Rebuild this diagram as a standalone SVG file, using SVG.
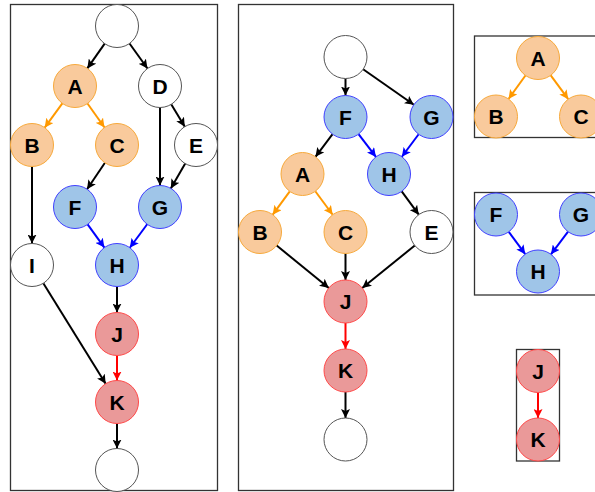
<svg xmlns="http://www.w3.org/2000/svg" width="595" height="492" viewBox="0 0 595 492">
<style>
.frame{fill:none;stroke:#333;stroke-width:1.3}
circle{stroke-width:1}
.w{fill:#fff;stroke:#555}
.o{fill:#f9ca9c;stroke:#f7a93b}
.b{fill:#9fc5e8;stroke:#4040ff}
.r{fill:#ea9999;stroke:#ff4848}
text{font-family:"Liberation Sans",Arial,sans-serif;font-weight:bold;font-size:21px;fill:#000;text-anchor:middle;dominant-baseline:central}
.e{fill:none;stroke-width:2}
.k{stroke:#000;marker-end:url(#mk)}
.eo{stroke:#ff9900;marker-end:url(#mo)}
.eb{stroke:#0000ff;marker-end:url(#mb)}
.er{stroke:#ff0000;marker-end:url(#mr)}
</style>
<defs>
<marker id="mk" markerUnits="userSpaceOnUse" markerWidth="10" markerHeight="9" refX="9" refY="4.5" orient="auto" viewBox="0 0 10 9"><path d="M0,0 L9,4.5 L0,9 L2,4.5 z" fill="#000"/></marker>
<marker id="mo" markerUnits="userSpaceOnUse" markerWidth="10" markerHeight="9" refX="9" refY="4.5" orient="auto" viewBox="0 0 10 9"><path d="M0,0 L9,4.5 L0,9 L2,4.5 z" fill="#ff9900"/></marker>
<marker id="mb" markerUnits="userSpaceOnUse" markerWidth="10" markerHeight="9" refX="9" refY="4.5" orient="auto" viewBox="0 0 10 9"><path d="M0,0 L9,4.5 L0,9 L2,4.5 z" fill="#0000ff"/></marker>
<marker id="mr" markerUnits="userSpaceOnUse" markerWidth="10" markerHeight="9" refX="9" refY="4.5" orient="auto" viewBox="0 0 10 9"><path d="M0,0 L9,4.5 L0,9 L2,4.5 z" fill="#ff0000"/></marker>
</defs>
<rect width="595" height="492" fill="#fff"/>
<g id="frames">
<rect class="frame" x="10.5" y="4.5" width="207" height="486"/>
<rect class="frame" x="238.5" y="4.5" width="215" height="486"/>
<rect class="frame" x="474.5" y="36" width="130" height="101.5"/>
<rect class="frame" x="474.5" y="192.5" width="130" height="102.5"/>
<rect class="frame" x="516.5" y="349.5" width="43" height="111.5"/>
</g>
<g id="connectors">
<line class="e k" x1="104.67" y1="43.61" x2="87.33" y2="68.39"/>
<line class="e k" x1="129.52" y1="43.48" x2="147.48" y2="68.52"/>
<line class="e eo" x1="62.34" y1="103.37" x2="44.66" y2="127.63"/>
<line class="e eo" x1="87.47" y1="103.52" x2="104.53" y2="127.48"/>
<line class="e k" x1="160" y1="107.5" x2="160" y2="185.5"/>
<line class="e k" x1="171.2" y1="104.35" x2="184.8" y2="126.65"/>
<line class="e k" x1="32" y1="166.5" x2="32" y2="243.5"/>
<line class="e k" x1="104.94" y1="162.8" x2="87.06" y2="189.2"/>
<line class="e k" x1="185.2" y1="163.59" x2="170.8" y2="188.41"/>
<line class="e eb" x1="87.61" y1="224.41" x2="104.39" y2="247.59"/>
<line class="e eb" x1="147.2" y1="224.27" x2="129.8" y2="247.73"/>
<line class="e k" x1="117" y1="286.5" x2="117" y2="312.5"/>
<line class="e k" x1="43.33" y1="283.27" x2="105.67" y2="383.73"/>
<line class="e er" x1="117" y1="355.5" x2="117" y2="380.5"/>
<line class="e k" x1="117" y1="423.5" x2="117" y2="448.5"/>

<line class="e k" x1="345.5" y1="78.5" x2="345.5" y2="95.5"/>
<line class="e k" x1="363.13" y1="69.3" x2="413.87" y2="104.7"/>
<line class="e k" x1="332.55" y1="134.16" x2="315.45" y2="156.84"/>
<line class="e eb" x1="358.54" y1="134.09" x2="375.96" y2="156.91"/>
<line class="e eb" x1="418.65" y1="134.24" x2="401.85" y2="156.76"/>
<line class="e eo" x1="289.79" y1="191.34" x2="272.71" y2="214.66"/>
<line class="e eo" x1="315.3" y1="191.27" x2="332.7" y2="214.73"/>
<line class="e k" x1="401.71" y1="191.34" x2="418.79" y2="214.66"/>
<line class="e k" x1="276.68" y1="245.56" x2="328.82" y2="287.94"/>
<line class="e k" x1="345.5" y1="253.5" x2="345.5" y2="280"/>
<line class="e k" x1="414.78" y1="245.51" x2="362.22" y2="287.99"/>
<line class="e er" x1="345.5" y1="323" x2="345.5" y2="349"/>
<line class="e k" x1="345.5" y1="392" x2="345.5" y2="418"/>

<line class="e eo" x1="525.46" y1="75.46" x2="508.54" y2="99.04"/>
<line class="e eo" x1="550.73" y1="75.32" x2="568.27" y2="99.18"/>
<line class="e eb" x1="508.75" y1="231.81" x2="525.25" y2="254.19"/>
<line class="e eb" x1="568.05" y1="231.66" x2="550.95" y2="254.34"/>
<line class="e er" x1="538" y1="392.5" x2="538" y2="418"/>
</g>
<g id="p1-start"><circle class="w" cx="117" cy="26" r="21.5"/></g>
<g id="p1-A"><circle class="o" cx="75" cy="86" r="21.5"/><text x="75" y="86">A</text></g>
<g id="p1-D"><circle class="w" cx="160" cy="86" r="21.5"/><text x="160" y="86">D</text></g>
<g id="p1-B"><circle class="o" cx="32" cy="145" r="21.5"/><text x="32" y="145">B</text></g>
<g id="p1-C"><circle class="o" cx="117" cy="145" r="21.5"/><text x="117" y="145">C</text></g>
<g id="p1-E"><circle class="w" cx="196" cy="145" r="21.5"/><text x="196" y="145">E</text></g>
<g id="p1-F"><circle class="b" cx="75" cy="207" r="21.5"/><text x="75" y="207">F</text></g>
<g id="p1-G"><circle class="b" cx="160" cy="207" r="21.5"/><text x="160" y="207">G</text></g>
<g id="p1-I"><circle class="w" cx="32" cy="265" r="21.5"/><text x="32" y="265">I</text></g>
<g id="p1-H"><circle class="b" cx="117" cy="265" r="21.5"/><text x="117" y="265">H</text></g>
<g id="p1-J"><circle class="r" cx="117" cy="334" r="21.5"/><text x="117" y="334">J</text></g>
<g id="p1-K"><circle class="r" cx="117" cy="402" r="21.5"/><text x="117" y="402">K</text></g>
<g id="p1-end"><circle class="w" cx="117" cy="470" r="21.5"/></g>

<g id="p2-start"><circle class="w" cx="345.5" cy="57" r="21.5"/></g>
<g id="p2-F"><circle class="b" cx="345.5" cy="117" r="21.5"/><text x="345.5" y="117">F</text></g>
<g id="p2-G"><circle class="b" cx="431.5" cy="117" r="21.5"/><text x="431.5" y="117">G</text></g>
<g id="p2-A"><circle class="o" cx="302.5" cy="174" r="21.5"/><text x="302.5" y="174">A</text></g>
<g id="p2-H"><circle class="b" cx="389" cy="174" r="21.5"/><text x="389" y="174">H</text></g>
<g id="p2-B"><circle class="o" cx="260" cy="232" r="21.5"/><text x="260" y="232">B</text></g>
<g id="p2-C"><circle class="o" cx="345.5" cy="232" r="21.5"/><text x="345.5" y="232">C</text></g>
<g id="p2-E"><circle class="w" cx="431.5" cy="232" r="21.5"/><text x="431.5" y="232">E</text></g>
<g id="p2-J"><circle class="r" cx="345.5" cy="301.5" r="21.5"/><text x="345.5" y="301.5">J</text></g>
<g id="p2-K"><circle class="r" cx="345.5" cy="370.5" r="21.5"/><text x="345.5" y="370.5">K</text></g>
<g id="p2-end"><circle class="w" cx="345.5" cy="439.5" r="21.5"/></g>

<g id="p3-A"><circle class="o" cx="538" cy="58" r="21.5"/><text x="538" y="58">A</text></g>
<g id="p3-B"><circle class="o" cx="496" cy="116.5" r="21.5"/><text x="496" y="116.5">B</text></g>
<g id="p3-C"><circle class="o" cx="581" cy="116.5" r="21.5"/><text x="581" y="116.5">C</text></g>

<g id="p4-F"><circle class="b" cx="496" cy="214.5" r="21.5"/><text x="496" y="214.5">F</text></g>
<g id="p4-G"><circle class="b" cx="581" cy="214.5" r="21.5"/><text x="581" y="214.5">G</text></g>
<g id="p4-H"><circle class="b" cx="538" cy="271.5" r="21.5"/><text x="538" y="271.5">H</text></g>

<g id="p5-J"><circle class="r" cx="538" cy="371" r="21.5"/><text x="538" y="371">J</text></g>
<g id="p5-K"><circle class="r" cx="538" cy="439.5" r="21.5"/><text x="538" y="439.5">K</text></g>
</svg>
